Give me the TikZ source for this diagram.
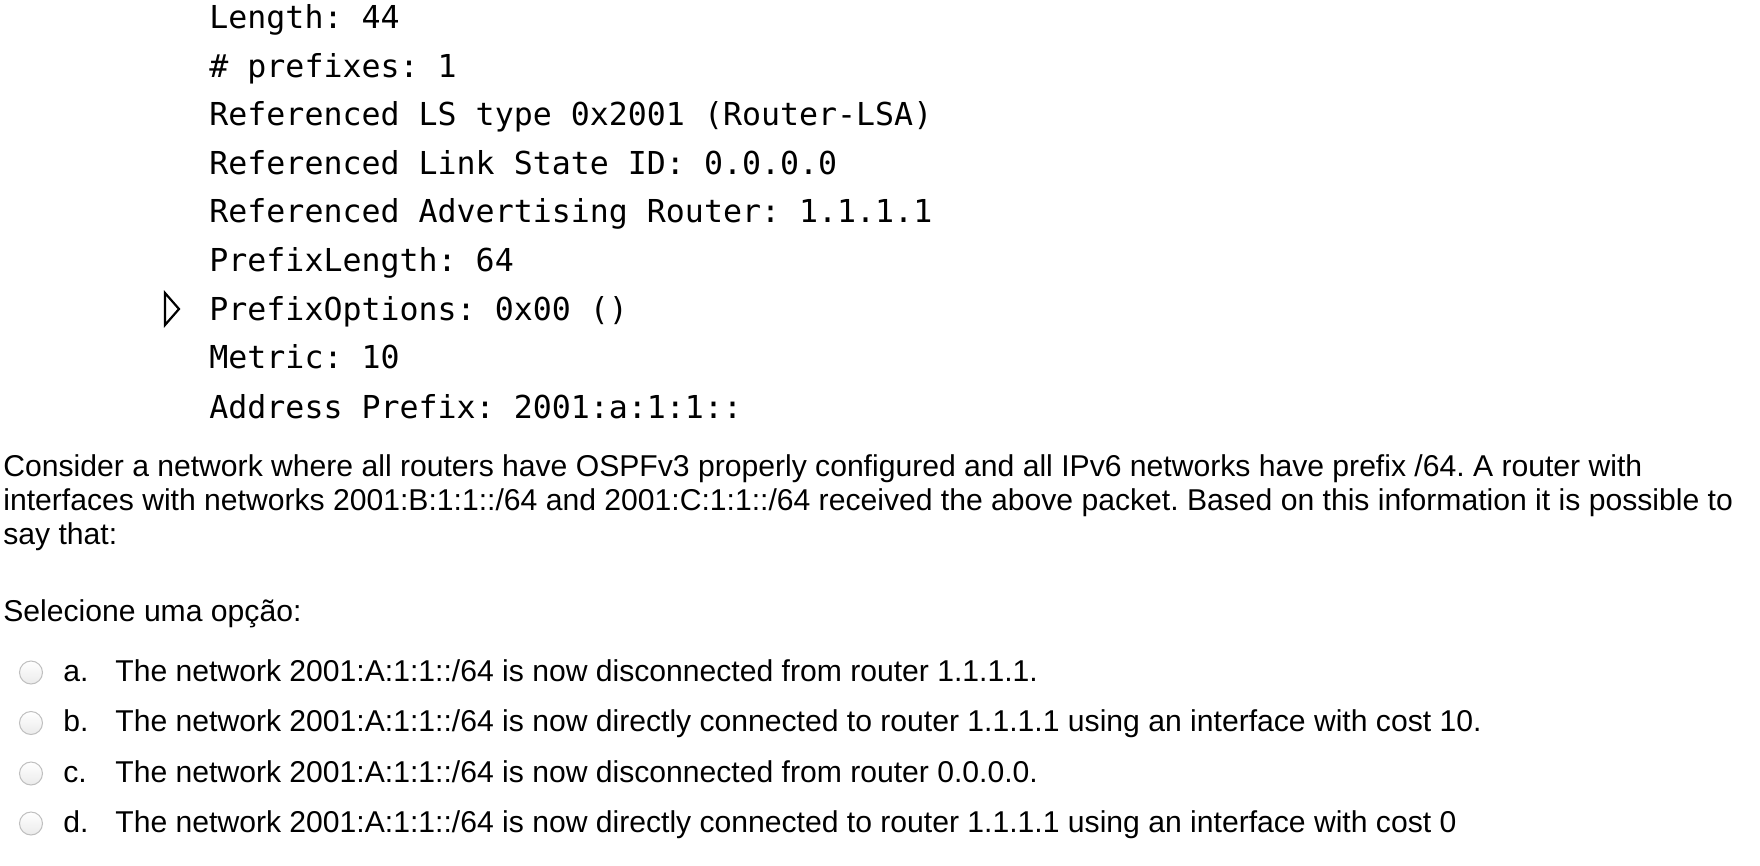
\documentclass[tikz,border=0pt]{standalone}
\usepackage{fontspec}
\setmainfont{Liberation Sans}
\newfontfamily\dumpfont{DejaVu Sans Mono}
\usetikzlibrary{positioning}
\frenchspacing

\begin{document}
\begin{tikzpicture}[x=0.5pt,y=-0.5pt]
    \tikzset{dump/.style= {anchor=base west, inner sep=0pt
    , font=\dumpfont\fontsize{15.8}{19}\selectfont
      }
    , prose/.style= {anchor=base west, inner sep=0pt
    , font=\fontsize{15.06}{17}\selectfont
      }
    , radio/.style= {circle, minimum size=11.5pt, inner sep=0pt
    , draw=black!25, line width=0.5pt, top color=white, bottom color=black!8
      }
    , expander/.style= {draw, line width=1.1pt, fill=white, line join=miter}
    }

\useasboundingbox (0,0) rectangle (1760,866);

% packet dump
\node [dump] (len) at (209,29) {Length: 44};
\node [dump] (npfx) at (209,77.5) {\# prefixes: 1};
\node [dump] (lstype) at (209,126) {Referenced LS type 0x2001 (Router-LSA)};
\node [dump] (lsid) at (209,174.5) {Referenced Link State ID: 0.0.0.0};
\node [dump] (advrtr) at (209,223) {Referenced Advertising Router: 1.1.1.1};
\node [dump] (pfxlen) at (209,271.5) {PrefixLength: 64};
\node [dump] (pfxopt) at (209,320) {PrefixOptions: 0x00 ()};
\node [dump] (metric) at (209,368.5) {Metric: 10};
\node [dump] (addr) at (209,418) {Address Prefix: 2001:a:1:1::};

\coordinate (tri) at (165,293);
\draw [expander] (tri) -- ++(0,32) -- ++(14,-16) -- cycle;

% question
\node [prose] (qline1) at (3,476) {Consider a network where all routers have OSPFv3 properly configured and all IPv6 networks have prefix /64. A router with};
\node [prose] (qline2) at (3,510.5) {interfaces with networks 2001:B:1:1::/64 and 2001:C:1:1::/64 received the above packet. Based on this information it is possible to};
\node [prose] (qline3) at (3,544) {say that:};
\node [prose] (select) at (3,621.5) {Selecione uma opção:};

% options
\node [radio] (ra) at (31,672.5) {};
\node [prose] (la) at (63,681) {a.};
\node [prose] (ta) at (115,681) {The network 2001:A:1:1::/64 is now disconnected from router 1.1.1.1.};

\node [radio] (rb) at (31,723) {};
\node [prose] (lb) at (63,731.5) {b.};
\node [prose] (tb) at (115,731.5) {The network 2001:A:1:1::/64 is now directly connected to router 1.1.1.1 using an interface with cost 10.};

\node [radio] (rc) at (31,773.5) {};
\node [prose] (lc) at (63,782) {c.};
\node [prose] (tc) at (115,782) {The network 2001:A:1:1::/64 is now disconnected from router 0.0.0.0.};

\node [radio] (rd) at (31,823.5) {};
\node [prose] (ld) at (63,832) {d.};
\node [prose] (td) at (115,832) {The network 2001:A:1:1::/64 is now directly connected to router 1.1.1.1 using an interface with cost 0};
\end{tikzpicture}
\end{document}
